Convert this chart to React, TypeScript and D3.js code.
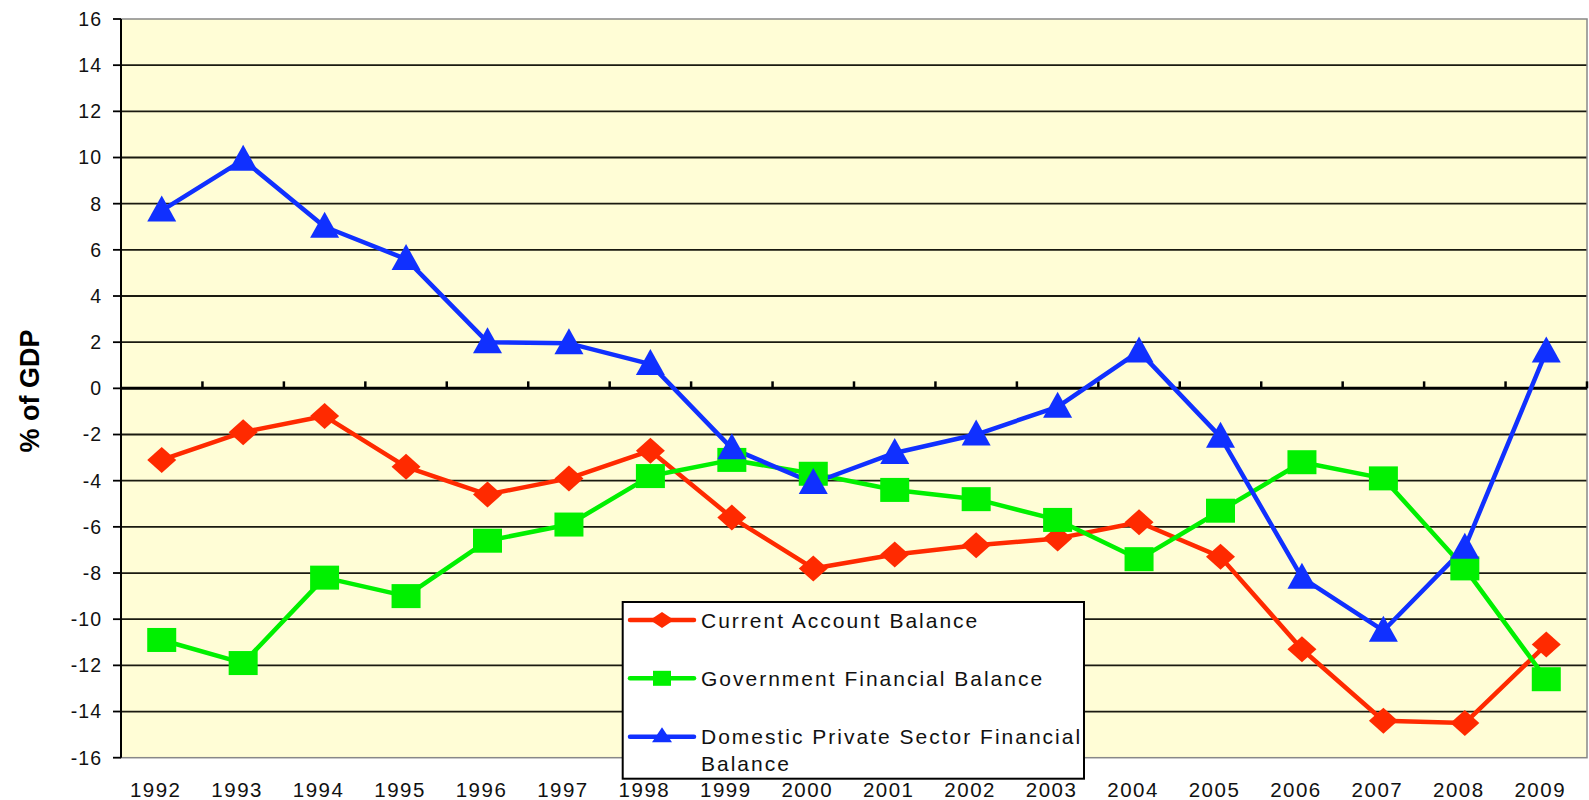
import React from "react";
import * as d3 from "d3";

const years = ["1992","1993","1994","1995","1996","1997","1998","1999","2000","2001","2002","2003","2004","2005","2006","2007","2008","2009"];
const currentAccount = [-3.1,-1.9,-1.2,-3.4,-4.6,-3.9,-2.7,-5.6,-7.8,-7.2,-6.8,-6.5,-5.8,-7.3,-11.3,-14.4,-14.5,-11.1];
const government = [-10.9,-11.9,-8.2,-9.0,-6.6,-5.9,-3.8,-3.1,-3.7,-4.4,-4.8,-5.7,-7.4,-5.3,-3.2,-3.9,-7.8,-12.6];
const domesticPrivate = [7.7,9.9,7.0,5.6,2.0,1.95,1.05,-2.6,-4.1,-2.8,-2.0,-0.8,1.6,-2.1,-8.2,-10.5,-6.9,1.6];
const yTicks = [16,14,12,10,8,6,4,2,0,-2,-4,-6,-8,-10,-12,-14,-16];
const seriesNames = ["Current Account Balance","Government Financial Balance","Domestic Private Sector Financial Balance"];

const W = 1589, H = 800;
const left = 121, right = 1587, top = 19, bottom = 757.7;
const RED = "#ff2a00", GREEN = "#00f000", BLUE = "#1030ff";
const BG = "#fffdd6";

function marker(kind: string, x: number, y: number, w: number, h: number, color: string, key: any) {
  const hw = w / 2, hh = h / 2;
  if (kind === "diamond") {
    return <polygon key={key} points={`${x},${y - hh} ${x + hw},${y} ${x},${y + hh} ${x - hw},${y}`} fill={color} />;
  }
  if (kind === "square") {
    return <rect key={key} x={x - hw} y={y - hh} width={w} height={h} fill={color} />;
  }
  return <polygon key={key} points={`${x},${y - hh - 2} ${x + hw},${y + hh - 2} ${x - hw},${y + hh - 2}`} fill={color} />;
}

export default function App() {
  const x = d3.scaleBand<string>().domain(years).range([left, right]).paddingInner(0).paddingOuter(0);
  const y = d3.scaleLinear().domain([-16, 16]).range([bottom, top]);
  const cx = (yr: string) => (x(yr) as number) + x.bandwidth() / 2;
  const line = d3.line<[string, number]>().x(d => cx(d[0])).y(d => y(d[1]));

  const series = [
    { name: seriesNames[0], values: currentAccount, color: RED, kind: "diamond", mw: 29, mh: 26 },
    { name: seriesNames[1], values: government, color: GREEN, kind: "square", mw: 29, mh: 24 },
    { name: seriesNames[2], values: domesticPrivate, color: BLUE, kind: "triangle", mw: 29, mh: 26 },
  ];

  const font = "'Liberation Sans', Arial, sans-serif";
  const lgX = 622.7, lgY = 602, lgW = 461.3, lgH = 176.7;
  const lgRows = [620, 678.3, 736.7];

  return (
    <svg width={W} height={H} style={{ position: "absolute", left: 0, top: 0, background: "#fff" }} fontFamily={font}>
      <rect x={left} y={top} width={right - left} height={bottom - top} fill={BG} />
      {yTicks.filter(t => t !== 0 && t !== 16 && t !== -16).map(t => (
        <line key={"g" + t} x1={left} x2={right} y1={y(t)} y2={y(t)} stroke="#1a1a10" strokeWidth={1.8} />
      ))}
      <rect x={left} y={top} width={right - left} height={bottom - top} fill="none" stroke="#888" strokeWidth={1.5} />
      <line x1={left} x2={left} y1={top} y2={bottom} stroke="#000" strokeWidth={2} />
      {yTicks.map(t => (
        <g key={"yt" + t}>
          <line x1={113} x2={left} y1={y(t)} y2={y(t)} stroke="#000" strokeWidth={1.8} />
          <text x={102} y={y(t)} dy="0.35em" textAnchor="end" fontSize={19.5} letterSpacing={1} fill="#111">{t}</text>
        </g>
      ))}
      <line x1={left} x2={right} y1={y(0)} y2={y(0)} stroke="#000" strokeWidth={3} />
      {years.map((yr, i) => (
        <line key={"xt" + yr} x1={(x(yr) as number) + x.bandwidth()} x2={(x(yr) as number) + x.bandwidth()} y1={y(0) - 7} y2={y(0)} stroke="#000" strokeWidth={2.5} />
      ))}
      {years.map(yr => (
        <text key={"xl" + yr} x={cx(yr) - 6} y={797} textAnchor="middle" fontSize={20.5} letterSpacing={1.5} fill="#111">{yr}</text>
      ))}
      <text transform={`translate(39,391) rotate(-90)`} textAnchor="middle" fontSize={27} fontWeight="bold" fill="#000">% of GDP</text>

      {series.map(s => (
        <path key={"l" + s.name} d={line(years.map((yr, i) => [yr, s.values[i]]) as any) as string} fill="none" stroke={s.color} strokeWidth={4.5} strokeLinejoin="round" />
      ))}
      {series.map(s => (
        <g key={"m" + s.name}>
          {years.map((yr, i) => marker(s.kind, cx(yr), y(s.values[i]), s.mw, s.mh, s.color, yr))}
        </g>
      ))}

      <rect x={lgX} y={lgY} width={lgW} height={lgH} fill="#fff" stroke="#000" strokeWidth={2} />
      {series.map((s, i) => (
        <g key={"lg" + s.name}>
          <line x1={630} x2={694} y1={lgRows[i]} y2={lgRows[i]} stroke={s.color} strokeWidth={4.5} strokeLinecap="round" />
          {marker(s.kind, 662, lgRows[i], s.kind === "square" ? 18 : s.kind === "diamond" ? 24 : 20, s.kind === "diamond" ? 16 : 15, s.color, "mk")}
        </g>
      ))}
      <text x={701} y={lgRows[0]} dy="0.36em" fontSize={21} letterSpacing={2} fill="#111">{seriesNames[0]}</text>
      <text x={701} y={lgRows[1]} dy="0.36em" fontSize={21} letterSpacing={2} fill="#111">{seriesNames[1]}</text>
      <text x={701} y={lgRows[2]} dy="0.36em" fontSize={21} letterSpacing={2} fill="#111">Domestic Private Sector Financial</text>
      <text x={701} y={763.3} dy="0.36em" fontSize={21} letterSpacing={2} fill="#111">Balance</text>
    </svg>
  );
}
